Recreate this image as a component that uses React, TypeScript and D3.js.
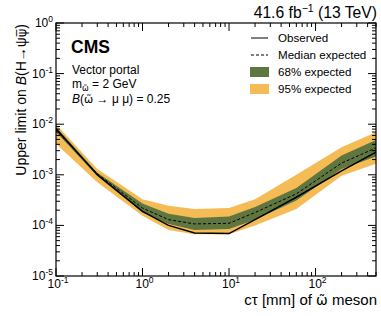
import React from "react";
import * as d3 from "d3";

const W = 381;
const H = 316;
const M = { left: 56, right: 5, top: 23, bottom: 40 };

// c*tau [mm]
const ctau = [0.1, 0.3, 1, 2, 4, 10, 20, 60, 200, 500];
const observed = [8.1e-3, 1.0e-3, 1.9e-4, 1.0e-4, 7.1e-5, 6.9e-5, 1.3e-4, 3.6e-4, 1.2e-3, 2.8e-3];
const median = [7.6e-3, 1.05e-3, 2.2e-4, 1.3e-4, 1.07e-4, 1.1e-4, 1.8e-4, 4.2e-4, 1.7e-3, 3.4e-3];
const up68 = [8.8e-3, 1.1e-3, 2.7e-4, 1.7e-4, 1.4e-4, 1.5e-4, 2.3e-4, 5.5e-4, 2.4e-3, 4.9e-3];
const lo68 = [7.0e-3, 0.95e-3, 1.8e-4, 1.07e-4, 8.1e-5, 8.5e-5, 1.3e-4, 3.1e-4, 1.3e-3, 2.3e-3];
const up95 = [1.0e-2, 1.3e-3, 3.3e-4, 2.45e-4, 2.1e-4, 2.2e-4, 3.3e-4, 1.0e-3, 3.5e-3, 6.9e-3];
const lo95 = [4.1e-3, 7.1e-4, 1.55e-4, 8.1e-5, 6.7e-5, 6.7e-5, 1.0e-4, 2.1e-4, 9.6e-4, 1.65e-3];

const xExps = [-1, 0, 1, 2];
const yExps = [0, -1, -2, -3, -4, -5];

const GREEN = "#607641";
const YELLOW = "#F5BB54";
const FONT = "Arial, Helvetica, sans-serif";
const MARK = "'DejaVu Sans', sans-serif"; // handles combining tilde / overline

export default function App() {
  const x0 = M.left, x1 = W - M.right, y0 = M.top, y1 = H - M.bottom;
  const x = d3.scaleLog().domain([0.1, 500]).range([x0, x1]);
  const y = d3.scaleLog().domain([1e-5, 1]).range([y1, y0]);

  const line = (vals: number[]) =>
    d3.line<number>().x((_, i) => x(ctau[i])).y((v) => y(v))(vals) || "";
  const band = (lo: number[], hi: number[]) =>
    d3.area<number>().x((_, i) => x(ctau[i])).y0((_, i) => y(lo[i])).y1((_, i) => y(hi[i]))(ctau) || "";

  const isMajor = (v: number) => Math.abs(Math.log10(v) - Math.round(Math.log10(v))) < 1e-9;
  const xTicks = x.ticks();
  const yTicks = y.ticks();

  const legend = [
    { label: "Observed", kind: "solid" },
    { label: "Median expected", kind: "dash" },
    { label: "68% expected", kind: GREEN },
    { label: "95% expected", kind: YELLOW },
  ];

  return (
    <svg width={W} height={H} style={{ position: "absolute", left: 0, top: 0 }} fontFamily={FONT}>
      <rect width={W} height={H} fill="#fff" />
      <defs>
        <clipPath id="plot">
          <rect x={x0} y={y0} width={x1 - x0} height={y1 - y0} />
        </clipPath>
      </defs>
      <g clipPath="url(#plot)">
        <path d={band(lo95, up95)} fill={YELLOW} />
        <path d={band(lo68, up68)} fill={GREEN} />
        <path d={line(median)} fill="none" stroke="#000" strokeWidth={1} strokeDasharray="3,2" />
        <path d={line(observed)} fill="none" stroke="#000" strokeWidth={1.5} />
      </g>

      {/* ticks on all four sides */}
      <g stroke="#000" strokeWidth={1}>
        {xTicks.map((t, i) => {
          const len = isMajor(t) ? 8 : 4;
          return (
            <g key={"xt" + i}>
              <line x1={x(t)} x2={x(t)} y1={y1} y2={y1 - len} />
              <line x1={x(t)} x2={x(t)} y1={y0} y2={y0 + len} />
            </g>
          );
        })}
        {yTicks.map((t, i) => {
          const len = isMajor(t) ? 8 : 4;
          return (
            <g key={"yt" + i}>
              <line x1={x0} x2={x0 + len} y1={y(t)} y2={y(t)} />
              <line x1={x1} x2={x1 - len} y1={y(t)} y2={y(t)} />
            </g>
          );
        })}
      </g>
      <rect x={x0} y={y0} width={x1 - x0} height={y1 - y0} fill="none" stroke="#000" strokeWidth={1.2} />

      {/* tick labels */}
      <g fontSize={12} fill="#000">
        {xExps.map((e) => (
          <text key={"xl" + e} x={x(Math.pow(10, e)) + 2} y={y1 + 12} textAnchor="middle">
            10<tspan dy={-5} fontSize={8.5}>{e}</tspan>
          </text>
        ))}
        {yExps.map((e) => (
          <text key={"yl" + e} x={x0 - 3} y={y(Math.pow(10, e)) + 4} textAnchor="end">
            10<tspan dy={-5} fontSize={8.5}>{e}</tspan>
          </text>
        ))}
      </g>

      {/* axis titles */}
      <text x={x1 + 1} y={H - 11} textAnchor="end" fontSize={15}>
        cτ [mm] of <tspan fontFamily={MARK} fontSize={14}>ω̃</tspan> meson
      </text>
      <text transform={`translate(26,${y0 + 1}) rotate(-90)`} textAnchor="end" fontSize={14}>
        Upper limit on <tspan fontStyle="italic">B</tspan>(H→ψ<tspan fontFamily={MARK} fontSize={13}>ψ̅</tspan>)
      </text>

      <text x={x1 + 1} y={18} textAnchor="end" fontSize={15.7}>
        41.6 fb<tspan dy={-6} fontSize={10.5}>−1</tspan><tspan dy={6}> (13 TeV)</tspan>
      </text>

      {/* CMS label */}
      <text x={71} y={53} fontSize={17.5} fontWeight="bold">CMS</text>
      <text x={72} y={74} fontSize={12}>Vector portal</text>
      <text x={72} y={88} fontSize={12}>
        m<tspan dy={3} fontSize={8} fontFamily={MARK}>ω̃</tspan><tspan dy={-3}> = 2 GeV</tspan>
      </text>
      <text x={72} y={103} fontSize={12}>
        <tspan fontStyle="italic">B</tspan>(<tspan fontFamily={MARK} fontSize={11}>ω̃</tspan> → μ μ) = 0.25
      </text>

      {/* legend */}
      <g fontSize={11.6}>
        {legend.map((d, i) => {
          const cy = 38 + i * 17;
          return (
            <g key={d.label}>
              {d.kind === "solid" && <line x1={251} x2={268} y1={cy} y2={cy} stroke="#000" strokeWidth={1} />}
              {d.kind === "dash" && (
                <line x1={251} x2={268} y1={cy} y2={cy} stroke="#000" strokeWidth={1} strokeDasharray="3,2" />
              )}
              {d.kind !== "solid" && d.kind !== "dash" && (
                <rect x={250} y={cy - 5} width={19} height={10} fill={d.kind} />
              )}
              <text x={278} y={cy + 4}>{d.label}</text>
            </g>
          );
        })}
      </g>
    </svg>
  );
}
